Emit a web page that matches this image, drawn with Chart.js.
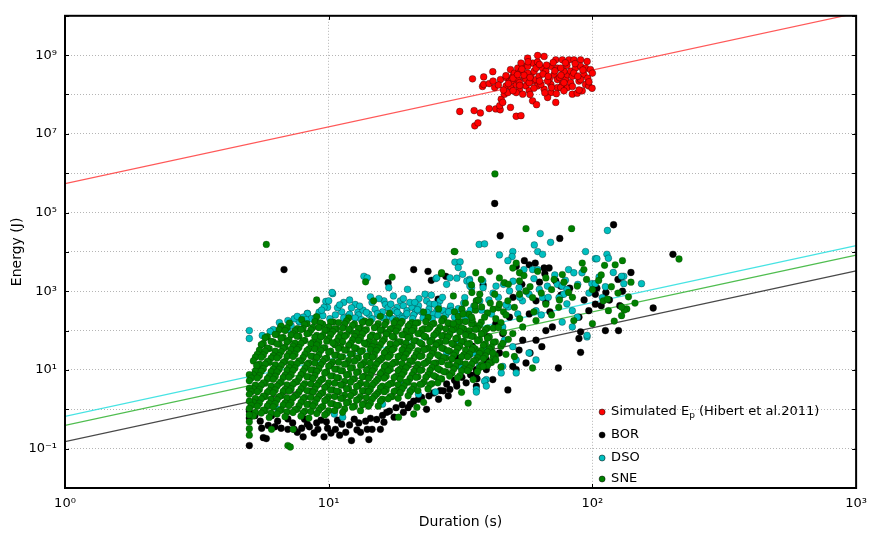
<!DOCTYPE html>
<html><head><meta charset="utf-8">
<script src="https://cdn.jsdelivr.net/npm/chart.js@4.4.1/dist/chart.umd.min.js"></script>
<style>html,body{margin:0;padding:0;background:#fff;}canvas{display:block}</style>
</head><body>
<canvas id="c" width="875" height="533"></canvas>
<script>
// ---------- axis ticks ----------
const xTickValues = [1, 10, 100, 1000];
const xTickLabels = ['10⁰', '10¹', '10²', '10³'];
const yGridValues = [1e-2, 1e-1, 1e0, 1e1, 1e2, 1e3, 1e4, 1e5, 1e6, 1e7, 1e8, 1e9, 1e10];
const yTickValues = [1e-1, 1e1, 1e3, 1e5, 1e7, 1e9];
const yTickLabels = ['10⁻¹', '10¹', '10³', '10⁵', '10⁷', '10⁹'];

// ---------- series names ----------
const seriesNames = ['Simulated Ep (Hibert et al.2011)', 'BOR', 'DSO', 'SNE'];
const legendParts = [['Simulated E', 'p', ' (Hibert et al.2011)'], ['BOR'], ['DSO'], ['SNE']];

// ---------- fit lines: energy at duration 1 s and 1000 s ----------
const fitDurations = [1, 1000];
const fitSimulated = [5.4e5, 1.16e10];
const fitBOR = [0.15, 3.3e3];
const fitDSO = [0.66, 1.45e4];
const fitSNE = [0.39, 8.3e3];

// ---------- scatter data [duration s, energy J] ----------
const simulated = [
[31.4,3.7e7],[35.1,2.5e8],[35.6,3.9e7],[37.6,3.4e7],[35.8,1.6e7],[36.8,1.9e7],[38.7,2.8e8],[38.3,1.6e8],[38.7,1.8e8],[40.6,1.9e8],
[40.6,4.4e7],[41.9,3.8e8],[42.6,1.5e8],[43.0,4.3e7],[44.7,4.1e7],[44.5,5.2e7],[45.1,7.6e7],[46.4,1.02e8],[45.7,6.3e7],[48.9,4.7e7],
[51.4,2.8e7],[53.6,2.9e7],[44.8,2.4e8],[47.1,2.7e8],[48.5,2.2e8],[49.9,2.9e8],[48.9,4.3e8],[50.6,3.5e8],[52.1,4.7e8],[53.6,3.9e8],
[55.2,5.2e8],[56.8,8.4e8],[59.3,6.3e8],[61.9,6.7e8],[65.6,9.3e8],[64.7,4.7e8],[66.6,3.9e8],[47.1,1.65e8],[49.2,1.5e8],[51.4,1.8e8],
[52.9,1.36e8],[54.4,1.02e8],[56.0,1.65e8],[57.6,1.24e8],[59.3,2.2e8],[61.1,2.4e8],[62.8,2.9e8],[59.3,6.9e7],[61.4,5.5e7],[68.6,2.4e8],
[69.6,1.8e8],[71.6,3.2e8],[73.7,4.7e8],[72.6,7.6e8],[76.9,7.6e8],[81.5,7.6e8],[85.1,7.6e8],[90.2,7.6e8],[95.5,6.9e8],[69.6,1.12e8],
[73.7,1.5e8],[76.9,1.8e8],[79.2,2.4e8],[80.4,3.2e8],[82.7,3.9e8],[86.3,4.7e8],[90.2,5.2e8],[94.2,4.7e8],[98.3,4.3e8],[65.6,1.36e8],
[67.6,8.4e7],[72.6,6.3e7],[75.8,1.5e8],[80.4,1.5e8],[83.9,1.02e8],[87.6,1.08e8],[91.5,1.24e8],[94.2,1.8e8],[96.9,1.65e8],[99.7,1.44e8],
[88.9,2.2e8],[82.7,2.0e8],[58.5,3.2e8],[55.2,2.7e8],[52.1,2.4e8],[61.9,1.65e8],[56.8,3.5e8],[63.8,1.8e8],[49.2,2.2e8],[52.9,2.0e8],
[56.0,2.4e8],[60.1,3.9e8],[67.6,2.2e8],[73.7,2.4e8],[78.0,3.9e8],[69.6,5.2e8],[57.6,2.0e8],[51.4,1.12e8],[47.8,1.12e8],[53.6,6.3e8],
[56.8,5.2e8],[61.1,4.7e8],[75.8,4.7e8],[83.9,2.9e8],[92.8,3.2e8],[90.2,2.4e8],[78.0,1.24e8],
[46,1.3e8],[48,1.9e8],[50,2.6e8],[53,1.7e8],[55,3.1e8],[58,2.7e8],[60,1.45e8],[63,2.2e8],[65,3.3e8],[68,2.9e8],
[70,1.5e8],[72,4.0e8],[75,2.7e8],[78,2.0e8],[80,5.5e8],[85,3.5e8],[88,2.9e8],[92,4.2e8],[96,2.6e8],[100,3.5e8],
[54,4.4e8],[57,6.8e8],[63,5.8e8],[67,5.6e8],[71,6.5e8],[79,6.4e8],[86,6.1e8],[62,9.8e8],[58,1.0e8],[66,1.1e8],
[44,1.75e8],[42,2.2e8],[50,1.25e8],[73,1.05e8],[84,1.6e8],[89,1.3e8],[97,2.1e8],[76,3.1e8],[52,3.2e8],[47,3.0e8]
];

const bor = [
[5.0,0.12],[5.65,0.19],[5.8,0.18],[9.6,0.2],[12.2,0.16],[14.2,0.17],[14.6,0.31],[11.6,0.26],[10.6,0.31],[9.9,0.33],
[9.1,0.31],[8.45,0.36],[7.9,0.33],[7.4,0.31],[7.0,0.31],[6.6,0.33],[6.25,0.36],[5.9,0.39],[5.57,0.33],[16.2,0.47],
[17.7,0.63],[19.2,0.84],[20.4,1.35],[21.9,1.8],[23.5,1.0],[26.1,1.8],[27.2,2.95],[28.8,3.2],[30.6,3.9],[33.2,4.7],
[36.3,8.4],[39.6,10.2],[5.25,0.69],[6.07,0.69],[7.0,0.57],[8.1,0.56],[9.35,0.53],[10.8,0.53],[12.5,0.56],[14.4,0.59],
[16.6,0.84],[7.6,0.26],[8.8,0.25],[10.2,0.25],[13.2,0.26],[14.0,0.31],[15.7,0.31],[5.0,0.9],[5.0,0.6],[5.5,0.5],
[6.4,0.5],[7.3,0.45],[8.3,0.42],[9.0,0.45],[9.8,0.48],[11.2,0.42],[12.0,0.4],[13.0,0.45],[13.8,0.5],[15.2,0.55],
[16.0,0.7],[17.0,0.9],[18.0,1.1],[19.0,1.3],[20.0,1.1],[21.0,1.6],[22.5,2.0],[24.0,2.2],[25.0,2.6],[26.5,3.0],
[28.0,4.4],[30.0,5.5],[32.0,6.5],[34.5,7.5],[36.5,6.0],[12.8,0.3],[11.0,0.22],[8.0,0.2],
[6.77,3550],[21.0,3550],[23.8,3200],[24.5,1900],[27.8,2400],[16.8,1650],[26.0,630],[38.5,1440],[42.6,170000],[44.7,25700],
[75.2,22000],[120.3,49000],[202,8700],[51.4,4300],[55.2,6000],[57.6,4700],[60.7,5200],[65.6,3900],[68.5,3900],[72.6,1820],
[75.8,1350],[125,2000],[102.6,840],[112.5,930],[170,375],[125.6,100],[112,100],[90.2,93],[102.6,470],[96.9,320],
[88.9,220],[88.9,63],[90.2,28],[74.3,11.2],[47.8,3.1],[70.5,124],[66.6,100],[61.1,57],[64.3,39],[58.0,27],
[56.0,15],[51.4,10.2],[54.4,57],[44.4,27],[39.6,18],[36.3,10.2],[30.5,4.7],[28.4,2.2],[129,2300],[127,430],
[108,430],[57.6,265],[61.1,570],[66.6,520],[48.5,220],[45.7,84],[52.7,32],[49.9,12.3],[41.9,5.7],[36.3,3.9],
[31,20],[35,40],[40,70],[43,150],[38,30],
[50,700],[54,1500],[63,1700],[69,300],[76,800],[82,1200],[93,600],[104,1200],[116,600],[130,1000],[140,3000],[66,2800]
];

const dso = [
[5.0,100],[5.0,63],[6.16,106],[6.57,124],[7.0,106],[7.2,135],[7.75,165],[8.3,275],[9.2,275],[9.75,550],
[9.9,390],[10.35,870],[10.3,930],[10.0,570],[9.6,390],[11.4,520],[8.3,270],[7.7,175],[9.2,295],[12.6,460],
[12.9,295],[14.4,720],[14.6,520],[16.2,570],[16.4,460],[17.6,760],[18.7,570],[18.2,390],[19.2,430],[19.8,320],
[20.7,390],[21.3,295],[21.9,430],[23.2,840],[23.5,570],[24.2,470],[26.4,570],[25.7,320],[27.2,320],[28.8,355],
[30.6,295],[33.2,265],[34.8,1230],[36.3,570],[38.4,1820],[13.6,2400],[14.0,2200],[16.9,1230],[19.9,1120],[25.5,2100],
[25.7,2200],[28.8,2200],[30.1,5500],[31.5,5600],[31.0,4000],[32.2,2700],[30.6,2150],[34.2,2000],[37.2,15500],[39.0,16000],
[63.4,29300],[69.4,17500],[60.2,15000],[62,10200],[64.7,8700],[94.2,10200],[102.6,6700],[113.5,8700],[115,6900],[114,35000],
[104,6700],[44.4,8400],[49.9,10200],[49.6,7600],[47.8,6000],[55.0,3550],[59.3,3550],[62.0,3550],[81.2,3550],[85.0,2950],
[91.3,2950],[99.5,1560],[102.5,1560],[131.5,2400],[131.5,1560],[153.5,1560],[129,2400],[109,690],[67.5,1350],[73.6,1500],
[76.8,1350],[80.1,1120],[77.9,840],[74.7,690],[83.9,320],[87.7,220],[95.4,69],[33.4,1820],[34.3,1350],[38.5,1230],
[43.1,1350],[48.5,1020],[52.7,1230],[57.5,840],[62.9,1120],[54.3,570],[52.1,265],[61.1,320],[64.7,690],[76.8,165],
[83.9,124],[95.4,76],[57.5,27],[61.1,18],[51.4,8.4],[45.7,12.3],[39.6,5.7],[36.3,3.2],[6.43,1.0],[10.5,0.76],
[11.3,0.63],[16.0,1.35],[18.7,4.1],[20.4,2.95],[21.9,2.4],[25.4,2.75],[36.3,2.75],[39.0,5.2],[34.2,24.5],[37.3,12.4],
[8.0,220],[8.6,200],[9.5,240],[10.6,250],[11.2,300],[11.8,230],[12.2,380],[13.0,250],[13.5,330],[14.2,260],
[15.0,350],[15.5,240],[16.0,300],[17.0,230],[17.8,320],[18.5,250],[19.5,240],[20.3,520],[21.0,250],[22.5,300],
[23.0,240],[24.0,350],[25.0,260],[26.0,420],[27.8,250],[29.0,420],[31.0,360],[32.5,500],[35.5,420],[38.0,330],
[40.5,600],[42.0,900],[44.0,700],[46.0,1500],[48.0,400],[12.0,600],[15.5,650],[22.0,650],[27.0,700],[6.5,160],
[7.4,200],[5.6,75],[6.0,95],
[28.0,1500],[29.2,320],[32.8,690],[34.2,1820],[37.4,570],[41.4,265],[45.7,124],[46.4,57],[49.9,39],[51.4,18],
[45.1,8.4],[39.6,32],[36.3,124],[33.2,84],[30.6,57],[28.0,27],[31.5,12.3],[35.3,27],[39.6,3.9],
[7.0,180],[7.6,230],[8.2,190],[8.9,210],[9.4,330],[10.1,200],[10.8,380],[11.4,210],[12.0,260],[12.6,210],
[13.3,190],[13.9,290],[14.6,200],[15.3,270],[16.1,210],[16.8,380],[17.5,200],[18.2,290],[19.0,200],[19.8,270],
[20.8,200],[21.7,340],[22.8,210],[23.6,290],[24.7,200],[26.0,250],[27.2,200],[28.5,300],[30.0,220],[31.5,260],
[33.0,200],[34.5,330],[11.0,450],[13.1,420],[17.2,470],[19.2,650],[21.2,520],[25.2,470],[24.5,800],
[50,1800],[56,1000],[60,2100],[68,700],[72,2600],[79,1900],[88,1500],[97,900],[106,2300],[112,1300],
[120,3000],[47,450],[53,700],[64,250],[80,480]
];

const sne = [
[7.9,190],[9.0,225],[10.4,165],[11.9,210],[13.7,175],[15.7,230],[18.0,180],[20.7,160],[23.8,215],[27.3,200],[31.4,170],
[8.27,150],[8.86,170],[9.49,145],[10.17,165],[10.9,160],[11.68,175],[12.52,148],[13.42,162],[14.38,170],[15.41,150],[16.52,165],[17.7,158],[18.97,172],[20.33,146],[21.79,160],[23.35,168],[25.03,152],[26.82,175],[28.75,150],[30.81,163],[33.02,170],[35.38,148],[37.92,165],
[6.6,130],[7.1,155],[7.6,112],[8.1,143],[8.7,120],[9.3,158],[10.0,124],[10.7,110],[11.5,148],[12.3,135],[13.2,116],[14.2,156],[15.2,126],[16.3,140],[17.4,113],[18.7,151],[20.0,130],[21.4,153],[23.0,112],[24.6,143],[26.4,120],[28.3,158],[30.3,124],[32.5,110],[34.8,148],[37.3,135],[40.0,116],
[6.49,105],[6.95,118],[7.45,98],[7.99,112],[8.56,104],[9.17,120],[9.83,100],[10.54,110],[11.29,116],[12.1,97],[12.97,113],[13.9,106],[14.9,119],[15.97,101],[17.11,109],[18.34,117],[19.65,99],[21.06,114],[22.57,104],[24.19,121],[25.93,98],[27.79,111],[29.78,107],[31.91,118],[34.2,100],[36.66,112],[39.28,105],[42.1,115],
[6.37,80],[6.83,100],[7.32,83],[7.85,106],[8.41,86],[9.01,76],[9.66,103],[10.35,94],[11.1,80],[11.9,108],[12.75,87],[13.66,97],[14.64,78],[15.7,104],[16.8,90],[18.0,96],[19.3,79],[20.7,99],[22.2,84],[23.8,110],[25.5,85],[27.3,75],[29.3,102],[31.4,93],[33.6,80],[36.0,107],[38.6,88],
[5.85,70],[6.27,80],[6.72,67],[7.2,77],[7.71,72],[8.27,83],[8.86,68],[9.49,75],[10.17,79],[10.9,66],[11.68,78],[12.52,71],[13.42,82],[14.38,69],[15.41,74],[16.52,81],[17.7,67],[18.97,78],[20.33,72],[21.79,84],[23.35,68],[25.03,76],[26.82,73],[28.75,80],[30.81,66],[33.02,77],[35.38,71],[37.92,82],[40.64,69],
[5.74,66],[6.16,52],[6.6,64],[7.07,57],[7.58,72],[8.12,56],[8.71,50],[9.33,69],[10.0,62],[10.72,53],[11.49,71],[12.31,58],[13.2,65],[14.15,52],[15.16,70],[16.25,60],[17.42,71],[18.67,52],[20.0,66],[21.44,55],[22.98,73],[24.63,57],[26.4,50],[28.29,68],[30.32,62],[32.5,53],[34.83,72],[37.32,58],[40.0,64],[42.87,52],
[5.65,47],[6.05,53],[6.49,45],[6.95,51],[7.45,48],[7.99,55],[8.56,46],[9.17,50],[9.83,54],[10.54,44],[11.29,52],[12.1,47],[12.97,56],[13.9,45],[14.9,50],[15.97,53],[17.11,46],[18.34,52],[19.65,48],[21.06,55],[22.57,45],[24.19,51],[25.93,49],[27.79,54],[29.78,44],[31.91,52],[34.2,47],[36.66,55],[39.28,46],[42.1,50],
[5.55,44],[5.95,35],[6.37,46],[6.83,38],[7.32,40],[7.85,47],[8.41,34],[9.01,43],[9.66,37],[10.35,49],[11.1,38],[11.9,42],[12.75,35],[13.66,48],[14.64,39],[15.7,44],[16.8,34],[18.0,46],[19.3,37],[20.7,41],[22.2,49],[23.8,36],[25.5,43],[27.3,35],[29.3,47],[31.4,40],[33.6,45],[36.0,34],[38.6,42],[41.4,38],
[5.46,32],[5.85,36],[6.27,30],[6.72,35],[7.2,33],[7.71,37],[8.27,31],[8.86,34],[9.49,36],[10.17,30],[10.9,35],[11.68,32],[12.52,37],[13.42,31],[14.38,33],[15.41,36],[16.52,30],[17.7,35],[18.97,32],[20.33,37],[21.79,31],[23.35,34],[25.03,33],[26.82,36],[28.75,30],[30.81,35],[33.02,32],[35.38,37],[37.92,31],[40.64,34],
[5.36,25],[5.74,30],[6.16,23],[6.6,29],[7.07,26],[7.58,33],[8.12,25],[8.71,22],[9.33,31],[10.0,28],[10.72,24],[11.49,32],[12.31,26],[13.2,29],[14.15,23],[15.16,31],[16.25,27],[17.42,32],[18.67,23],[20.0,30],[21.44,25],[22.98,33],[24.63,26],[26.4,22],[28.29,31],[30.32,28],[32.5,24],[34.83,32],[37.32,26],[40.0,29],[42.87,23],
[5.27,21],[5.65,24],[6.05,20],[6.49,23],[6.95,22],[7.45,25],[7.99,20.5],[8.56,22.5],[9.17,24],[9.83,20],[10.54,23.5],[11.29,21.5],[12.1,25],[12.97,20.5],[13.9,22],[14.9,24],[15.97,20],[17.11,23.5],[18.34,21.5],[19.65,25],[21.06,20.5],[22.57,23],[24.19,22],[25.93,24],[27.79,20],[29.78,23.5],[31.91,21.5],[34.2,25],[36.66,20.5],[39.28,22.5],[42.1,21],
[5.18,17],[5.55,21],[5.95,15.5],[6.37,20],[6.83,16.5],[7.32,22],[7.85,17],[8.41,15],[9.01,20.5],[9.66,19],[10.35,16],[11.1,21.5],[11.9,17.5],[12.75,19.5],[13.66,15.5],[14.64,21],[15.7,18],[16.8,21],[18.0,15.5],[19.3,20],[20.7,16.5],[22.2,22],[23.8,17],[25.5,15],[27.3,20.5],[29.3,19],[31.4,16],[33.6,21.5],[36.0,17.5],[38.6,19.5],[41.4,15.5],
[5.46,14],[5.85,16.5],[6.27,13.5],[6.72,15.5],[7.2,14.5],[7.71,17],[8.27,13.8],[8.86,15],[9.49,16.2],[10.17,13.4],[10.9,15.8],[11.68,14.2],[12.52,16.8],[13.42,13.6],[14.38,14.8],[15.41,16.4],[16.52,13.5],[17.7,15.6],[18.97,14.4],[20.33,17],[21.79,13.8],[23.35,15.2],[25.03,14.6],[26.82,16.2],[28.75,13.4],[30.81,15.8],[33.02,14.2],[35.38,16.8],[37.92,13.6],[40.64,15],
[5.36,11],[5.74,14],[6.16,10.5],[6.6,13],[7.07,11.5],[7.58,14.5],[8.12,11],[8.71,10],[9.33,13.5],[10.0,12.5],[10.72,10.5],[11.49,14],[12.31,11.5],[13.2,13],[14.15,10.5],[15.16,14],[16.25,12],[17.42,14],[18.67,10.5],[20.0,13],[21.44,11],[22.98,14.5],[24.63,11.5],[26.4,10],[28.29,13.5],[30.32,12.5],[32.5,10.5],[34.83,14],[37.32,11.5],[40.0,13],
[5.27,9.4],[5.65,10.8],[6.05,9.0],[6.49,10.4],[6.95,9.7],[7.45,11.2],[7.99,9.2],[8.56,10],[9.17,10.8],[9.83,8.9],[10.54,10.5],[11.29,9.5],[12.1,11.1],[12.97,9.1],[13.9,9.9],[14.9,10.9],[15.97,9],[17.11,10.4],[18.34,9.6],[19.65,11.2],[21.06,9.2],[22.57,10.1],[24.19,9.7],[25.93,10.8],[27.79,8.9],[29.78,10.5],[31.91,9.5],[34.2,11.1],[36.66,9.1],
[5.18,7.5],[5.55,9.2],[5.95,6.9],[6.37,8.8],[6.83,7.4],[7.32,9.7],[7.85,7.6],[8.41,6.7],[9.01,9.1],[9.66,8.3],[10.35,7.1],[11.1,9.6],[11.9,7.8],[12.75,8.6],[13.66,7],[14.64,9.3],[15.7,8],[16.8,9.4],[18.0,6.9],[19.3,8.8],[20.7,7.4],[22.2,9.7],[23.8,7.6],[25.5,6.7],[27.3,9.1],[29.3,8.3],[31.4,7.1],[33.6,9.6],[5.0,7.6],
[5.09,6.2],[5.46,7.2],[5.85,6.0],[6.27,6.9],[6.72,6.4],[7.2,7.4],[7.71,6.1],[8.27,6.7],[8.86,7.2],[9.49,5.9],[10.17,7],[10.9,6.3],[11.68,7.4],[12.52,6],[13.42,6.6],[14.38,7.2],[15.41,6],[16.52,6.9],[17.7,6.4],[18.97,7.4],[20.33,6.1],[21.79,6.7],[23.35,6.5],[25.03,7.2],[26.82,5.9],[28.75,7],[30.81,6.3],
[5.0,5.3],[5.36,6.2],[5.74,4.6],[6.16,5.8],[6.6,4.9],[7.07,6.5],[7.58,5],[8.12,4.5],[8.71,6],[9.33,5.5],[10.0,4.7],[10.72,6.4],[11.49,5.1],[12.31,5.7],[13.2,4.6],[14.15,6.1],[15.16,5.3],[16.25,6.2],[17.42,4.6],[18.67,5.8],[20.0,4.9],[21.44,6.5],[22.98,5],[24.63,4.5],[26.4,6],
[5.27,4.1],[5.65,4.7],[6.05,3.9],[6.49,4.5],[6.95,4.2],[7.45,4.9],[7.99,4.0],[8.56,4.4],[9.17,4.7],[9.83,3.9],[10.54,4.6],[11.29,4.1],[12.1,4.9],[12.97,4.0],[13.9,4.3],[14.9,4.7],[15.97,3.9],[17.11,4.5],[18.34,4.2],[19.65,4.9],[21.06,4.0],[22.57,4.4],[24.19,4.2],[25.93,4.7],
[5.18,3.3],[5.55,4.1],[5.95,3.0],[6.37,3.9],[6.83,3.2],[7.32,4.3],[7.85,3.3],[8.41,2.9],[9.01,4.0],[9.66,3.6],[10.35,3.1],[11.1,4.2],[11.9,3.4],[12.75,3.8],[13.66,3.0],[14.64,4.1],[15.7,3.5],[16.8,4.1],[18.0,3.0],[19.3,3.9],[20.7,3.2],[22.2,4.3],[23.8,3.3],[5.0,3.4],
[5.09,2.8],[5.46,3.2],[5.85,2.7],[6.27,3.1],[6.72,2.85],[7.2,3.3],[7.71,2.75],[8.27,3.0],[8.86,3.2],[9.49,2.65],[10.17,3.1],[10.9,2.8],[11.68,3.3],[12.52,2.7],[13.42,2.95],[14.38,3.2],[15.41,2.7],[16.52,3.1],[17.7,2.85],[18.97,3.3],[20.33,2.75],[21.79,3.0],
[5.0,2.4],[5.36,2.8],[5.74,2.1],[6.16,2.6],[6.6,2.2],[7.07,2.9],[7.58,2.3],[8.12,2.0],[8.71,2.7],[9.33,2.5],[10.0,2.1],[10.72,2.9],[11.49,2.3],[12.31,2.6],[13.2,2.1],[14.15,2.8],[15.16,2.4],[16.25,2.8],[17.42,2.1],[18.67,2.6],[20.0,2.2],
[5.27,1.9],[5.65,2.15],[6.05,1.8],[6.49,2.1],[6.95,1.95],[7.45,2.2],[7.99,1.85],[8.56,2.0],[9.17,2.15],[9.83,1.8],[10.54,2.1],[11.29,1.9],[12.1,2.2],[12.97,1.82],[13.9,1.98],[14.9,2.15],[15.97,1.8],[17.11,2.1],[18.34,1.9],
[5.18,1.5],[5.55,1.85],[5.95,1.4],[6.37,1.75],[6.83,1.45],[7.32,1.95],[7.85,1.5],[8.41,1.35],[9.01,1.8],[9.66,1.65],[10.35,1.4],[11.1,1.9],[11.9,1.55],[12.75,1.7],[13.66,1.4],[14.64,1.85],[15.7,1.6],[16.8,1.85],[5.0,1.6],
[5.09,1.25],[5.46,1.42],[5.85,1.2],[6.27,1.38],[6.72,1.28],[7.2,1.45],[7.71,1.22],[8.27,1.33],[8.86,1.42],[9.49,1.18],[10.17,1.4],[10.9,1.26],[11.68,1.45],[12.52,1.2],[13.42,1.31],[14.38,1.42],[15.41,1.2],
[5.0,1.05],[5.36,1.2],[5.74,0.92],[6.16,1.15],[6.6,0.96],[7.07,1.25],[7.58,1.0],[8.12,0.9],[8.71,1.2],[9.33,1.1],[10.0,0.93],[10.72,1.25],[11.49,1.02],[12.31,1.13],[13.2,0.92],[14.15,1.2],
[5.27,0.83],[5.65,0.95],[6.05,0.8],[6.49,0.92],[6.95,0.86],[7.45,0.98],[7.99,0.81],[8.56,0.88],[9.17,0.95],[9.83,0.79],[10.54,0.93],[11.29,0.84],
[5.18,0.68],[5.55,0.8],[5.95,0.62],[6.37,0.76],[6.83,0.65],[7.32,0.83],[7.85,0.67],[8.41,0.6],[9.01,0.78],[9.66,0.72],[5.0,0.72],
[5.0,0.48],[5.0,0.32],[5.0,0.22],[6.07,0.31],[7.33,0.31],[7.0,0.12],[7.15,0.11],[5.33,13],[5.8,15500],[13.8,1740],
[17.4,2290],[26.8,2800],[29.9,10200],[9.0,600],[14.8,570],[17.0,275],[36.1,2950],[34.8,1440],[34.9,930],[36.3,570],
[29.7,760],[22.9,295],[26.1,355],[18.4,0.63],[21.0,0.76],[21.6,1.12],[22.9,1.5],[33.8,1.44],
[30,300],[32,350],[34,260],[36,330],[38,400],[40,280],[42,350],[33,500],[37,600],[41,500],[44,380],[46,300],
[31,230],[35,190],[39,220],[43,200],[45,160],[47,250],[44,120],[46,90],[48,60],[45,40],[47,25],[43,18],[45,12],
[42.7,960000],[56.0,39000],[83.4,39000],[30.1,10200],[26.8,2950],[37.9,2000],[44.4,2180],[46.4,1650],[40.7,3200],[52.9,2950],
[52.9,1820],[49.9,3900],[51.4,5200],[62.0,3200],[66.6,2180],[71.6,2000],[76.9,2660],[91.5,5200],[92.8,3550],[105.6,1880],
[111.2,4560],[122,4700],[130,6000],[110,570],[115,320],[129,240],[137,720],[121,175],[135,355],[114,630],
[132,335],[129,400],[213,6600],[29.7,150],[32.3,265],[34.8,220],[35.8,430],[37.4,840],[42.6,840],[44.4,470],
[47.8,570],[50.6,390],[52.9,840],[56.0,1020],[59.3,690],[66.6,470],[61.1,180],[54.4,124],[49.9,84],[45.7,47],
[41.9,27],[38.5,12.3],[35.3,5.7],[31.9,2.7],[59.3,11.2],[50.6,22],[74.5,390],[81.2,930],[87.6,1350],
[48,1500],[55,2500],[58,1300],[64,900],[70,1100],[78,1700],[84,700],[95,2000],[100,1100],[108,2600],
[118,1300],[125,900],[140,1700],[145,500],[60,300],[70,250],[85,180],[100,150],[53,200],[75,600]
];

// ---------- styles ----------
const FONT = '"DejaVu Sans", "Liberation Sans", sans-serif';
const seriesColors = ['#ff0000', '#000000', '#00bfbf', '#008000'];
const edgeColors = ['rgba(0,0,0,0.7)', 'rgba(0,0,0,0.7)', 'rgba(0,0,0,0.6)', 'rgba(0,30,0,0.45)'];
const lineColors = ['rgba(255,70,70,0.9)', 'rgba(40,40,40,0.85)', 'rgba(60,225,225,0.95)', 'rgba(70,185,70,0.95)'];

const toPts = arr => arr.map(p => ({x: p[0], y: p[1]}));
const fitLine = (vals, color) => ({
  type: 'line', data: fitDurations.map((d, i) => ({x: d, y: vals[i]})),
  borderColor: color, borderWidth: 1.2, pointRadius: 0, fill: false, order: 10, showLine: true
});
const scatterSet = (i, arr, order) => ({
  label: seriesNames[i], data: toPts(arr), backgroundColor: seriesColors[i], borderColor: edgeColors[i],
  borderWidth: 0.5, pointRadius: 3.4, pointHoverRadius: 3.4, order
});

const decorPlugin = {
  id: 'decor',
  afterDraw(chart) {
    const {ctx, chartArea: a, scales: {x, y}} = chart;
    ctx.save();
    ctx.strokeStyle = '#000';
    ctx.lineWidth = 1;
    ctx.beginPath();
    yGridValues.forEach(v => {
      const py = Math.round(y.getPixelForValue(v)) + 0.5;
      ctx.moveTo(a.left, py); ctx.lineTo(a.left + 4, py);
      ctx.moveTo(a.right, py); ctx.lineTo(a.right - 4, py);
    });
    xTickValues.forEach(v => {
      const px = Math.round(x.getPixelForValue(v)) + 0.5;
      ctx.moveTo(px, a.bottom); ctx.lineTo(px, a.bottom - 4);
      ctx.moveTo(px, a.top); ctx.lineTo(px, a.top + 4);
    });
    ctx.stroke();
    ctx.lineWidth = 2;
    ctx.strokeRect(a.left, a.top, a.right - a.left, a.bottom - a.top);

    // legend (lower right, inside axes)
    const mx = a.right - 254;
    const rows = [a.bottom - 76, a.bottom - 53, a.bottom - 30, a.bottom - 9];
    ctx.textBaseline = 'middle';
    ctx.textAlign = 'left';
    legendParts.forEach((parts, i) => {
      const cy = rows[i];
      ctx.beginPath();
      ctx.arc(mx, cy, 3, 0, Math.PI * 2);
      ctx.fillStyle = seriesColors[i];
      ctx.fill();
      ctx.lineWidth = 0.6; ctx.strokeStyle = 'rgba(0,0,0,0.85)'; ctx.stroke();
      ctx.fillStyle = '#000';
      let tx = mx + 9;
      ctx.font = '13px ' + FONT;
      ctx.fillText(parts[0], tx, cy);
      tx += ctx.measureText(parts[0]).width;
      if (parts.length > 1) {
        ctx.font = '9px ' + FONT;
        ctx.fillText(parts[1], tx, cy + 4);
        tx += ctx.measureText(parts[1]).width;
        ctx.font = '13px ' + FONT;
        ctx.fillText(parts[2], tx, cy);
      }
    });
    ctx.restore();
  }
};

new Chart(document.getElementById('c'), {
  type: 'scatter',
  data: {
    datasets: [
      fitLine(fitSimulated, lineColors[0]),
      fitLine(fitBOR, lineColors[1]),
      fitLine(fitDSO, lineColors[2]),
      fitLine(fitSNE, lineColors[3]),
      scatterSet(0, simulated, 4),
      scatterSet(1, bor, 3),
      scatterSet(2, dso, 2),
      scatterSet(3, sne, 1)
    ]
  },
  options: {
    responsive: false,
    animation: false,
    events: [],
    layout: {padding: {top: 7, right: 12, left: 0, bottom: 0}},
    plugins: {legend: {display: false}, tooltip: {enabled: false}, title: {display: false}},
    scales: {
      x: {
        type: 'logarithmic', position: 'bottom', min: 1, max: 1000,
        afterBuildTicks: s => { s.ticks = xTickValues.map(v => ({value: v})); },
        afterFit: s => { s.height = 45; },
        ticks: {
          autoSkip: false, maxRotation: 0, padding: 8, color: '#000',
          font: {family: FONT, size: 13},
          callback: (v, i) => xTickLabels[i]
        },
        grid: {color: '#b5b5b5', lineWidth: 1, drawTicks: false},
        border: {display: false, dash: [1, 2]},
        title: {display: true, text: 'Duration (s)', color: '#000', font: {family: FONT, size: 14}, padding: {top: 0, bottom: 2}}
      },
      y: {
        type: 'logarithmic', position: 'left', min: 1e-2, max: 1e10,
        afterBuildTicks: s => { s.ticks = yGridValues.map(v => ({value: v})); },
        afterFit: s => { s.width = 65; },
        ticks: {
          autoSkip: false, padding: 8, color: '#000',
          font: {family: FONT, size: 13},
          callback: (v) => {
            const k = yTickValues.findIndex(t => Math.abs(Math.log10(t) - Math.log10(v)) < 1e-6);
            return k >= 0 ? yTickLabels[k] : '';
          }
        },
        grid: {color: '#b5b5b5', lineWidth: 1, drawTicks: false},
        border: {display: false, dash: [1, 2]},
        title: {display: true, text: 'Energy (J)', color: '#000', font: {family: FONT, size: 14}, padding: {top: 9, bottom: 0}}
      }
    }
  },
  plugins: [decorPlugin]
});
</script>
</body></html>
